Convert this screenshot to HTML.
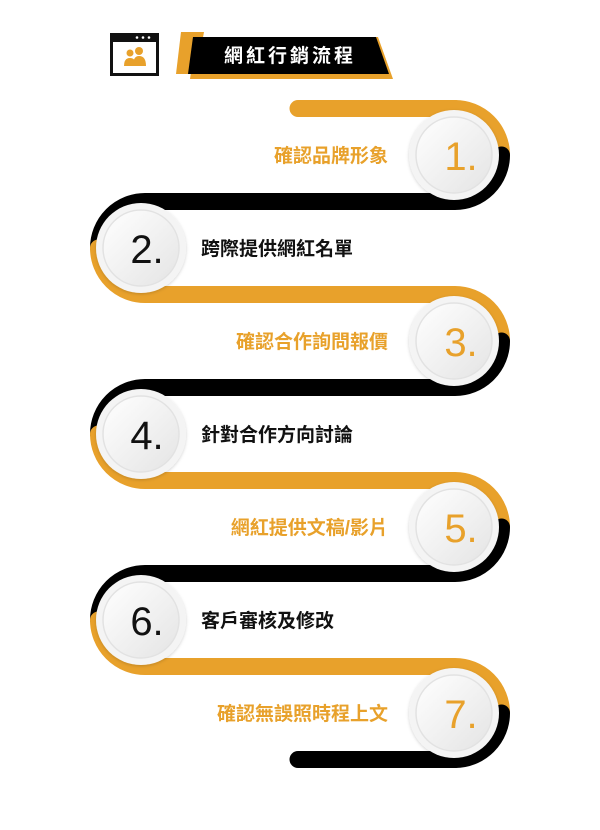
<!DOCTYPE html>
<html><head><meta charset="utf-8"><style>
html,body{margin:0;padding:0;background:#fff;width:600px;height:830px;overflow:hidden}
svg{display:block}
text{font-family:"Liberation Sans","Noto Sans CJK TC",sans-serif}
</style></head><body>
<svg width="600" height="830" viewBox="0 0 600 830">
<defs>
<linearGradient id="g" x1="0" y1="0" x2="1" y2="1">
<stop offset="0" stop-color="#ffffff"/><stop offset="1" stop-color="#e4e4e4"/>
</linearGradient>
<filter id="sh" x="-30%" y="-30%" width="160%" height="160%"><feDropShadow dx="0" dy="1" stdDeviation="1.5" flood-color="#000" flood-opacity="0.18"/></filter>
</defs>
<!-- header -->
<rect x="110" y="33" width="49" height="43" fill="#111"/>
<rect x="113" y="42" width="43" height="31" fill="#fff"/>
<circle cx="137" cy="37.5" r="1.3" fill="#fff"/><circle cx="143" cy="37.5" r="1.3" fill="#fff"/><circle cx="149" cy="37.5" r="1.3" fill="#fff"/>
<circle cx="130" cy="53" r="3.5" fill="#E8A12B"/><circle cx="139" cy="51" r="4" fill="#E8A12B"/>
<path d="M124 66 q0-8 6-8 q6 0 6 8z M133 66 q0-10 6-10 q7 0 7 10z" fill="#E8A12B"/>
<polygon points="181,32 204,32 196,74 176,74" fill="#E8A12B"/>
<polygon points="196,37 378,37 393,79 190,79" fill="#E8A12B"/>
<polygon points="193,37 376,37 389,74 188,74" fill="#000"/>
<text x="290" y="62" font-size="19" font-weight="bold" fill="#fff" text-anchor="middle" letter-spacing="3">網紅行銷流程</text>
<!-- bars -->
<g stroke-width="17" fill="none" stroke-linecap="round">
<line x1="298" y1="108.5" x2="455" y2="108.5" stroke="#E8A12B"/>
<line x1="145" y1="201.5" x2="455" y2="201.5" stroke="#000" stroke-linecap="butt"/>
<line x1="145" y1="294.5" x2="455" y2="294.5" stroke="#E8A12B" stroke-linecap="butt"/>
<line x1="145" y1="387.5" x2="455" y2="387.5" stroke="#000" stroke-linecap="butt"/>
<line x1="145" y1="480.5" x2="455" y2="480.5" stroke="#E8A12B" stroke-linecap="butt"/>
<line x1="145" y1="573.5" x2="455" y2="573.5" stroke="#000" stroke-linecap="butt"/>
<line x1="145" y1="666.5" x2="455" y2="666.5" stroke="#E8A12B" stroke-linecap="butt"/>
<line x1="298" y1="759.5" x2="455" y2="759.5" stroke="#000"/>
<path d="M455 108.5 A46.5 46.5 0 0 1 501.5 155" stroke="#E8A12B"/>
<path d="M501.5 155 A46.5 46.5 0 0 1 455 201.5" stroke="#000"/>
<path d="M455 294.5 A46.5 46.5 0 0 1 501.5 341" stroke="#E8A12B"/>
<path d="M501.5 341 A46.5 46.5 0 0 1 455 387.5" stroke="#000"/>
<path d="M455 480.5 A46.5 46.5 0 0 1 501.5 527" stroke="#E8A12B"/>
<path d="M501.5 527 A46.5 46.5 0 0 1 455 573.5" stroke="#000"/>
<path d="M455 666.5 A46.5 46.5 0 0 1 501.5 713" stroke="#E8A12B"/>
<path d="M501.5 713 A46.5 46.5 0 0 1 455 759.5" stroke="#000"/>
<path d="M145 201.5 A46.5 46.5 0 0 0 98.5 248" stroke="#000"/>
<path d="M98.5 248 A46.5 46.5 0 0 0 145 294.5" stroke="#E8A12B"/>
<path d="M145 387.5 A46.5 46.5 0 0 0 98.5 434" stroke="#000"/>
<path d="M98.5 434 A46.5 46.5 0 0 0 145 480.5" stroke="#E8A12B"/>
<path d="M145 573.5 A46.5 46.5 0 0 0 98.5 620" stroke="#000"/>
<path d="M98.5 620 A46.5 46.5 0 0 0 145 666.5" stroke="#E8A12B"/>
</g>
<g filter="url(#sh)">
<circle cx="454" cy="155" r="45" fill="#f4f4f4"/>
<circle cx="141" cy="248" r="45" fill="#f4f4f4"/>
<circle cx="454" cy="341" r="45" fill="#f4f4f4"/>
<circle cx="141" cy="434" r="45" fill="#f4f4f4"/>
<circle cx="454" cy="527" r="45" fill="#f4f4f4"/>
<circle cx="141" cy="620" r="45" fill="#f4f4f4"/>
<circle cx="454" cy="713" r="45" fill="#f4f4f4"/>
</g>
<g fill="url(#g)" stroke="#e2e2e2" stroke-width="1.5">
<circle cx="454" cy="155" r="38"/>
<circle cx="141" cy="248" r="38"/>
<circle cx="454" cy="341" r="38"/>
<circle cx="141" cy="434" r="38"/>
<circle cx="454" cy="527" r="38"/>
<circle cx="141" cy="620" r="38"/>
<circle cx="454" cy="713" r="38"/>
</g>
<g font-size="40" text-anchor="middle">
<text x="461" y="170" fill="#E8A12B">1.</text>
<text x="147" y="263" fill="#111">2.</text>
<text x="461" y="356" fill="#E8A12B">3.</text>
<text x="147" y="449" fill="#111">4.</text>
<text x="461" y="542" fill="#E8A12B">5.</text>
<text x="147" y="635" fill="#111">6.</text>
<text x="461" y="728" fill="#E8A12B">7.</text>
</g>
<g font-size="19" font-weight="bold">
<text x="388" y="162" fill="#E8A12B" text-anchor="end">確認品牌形象</text>
<text x="201" y="255" fill="#111">跨際提供網紅名單</text>
<text x="388" y="348" fill="#E8A12B" text-anchor="end">確認合作詢問報價</text>
<text x="201" y="441" fill="#111">針對合作方向討論</text>
<text x="388" y="534" fill="#E8A12B" text-anchor="end">網紅提供文稿/影片</text>
<text x="201" y="627" fill="#111">客戶審核及修改</text>
<text x="388" y="720" fill="#E8A12B" text-anchor="end">確認無誤照時程上文</text>
</g>
</svg>
</body></html>
